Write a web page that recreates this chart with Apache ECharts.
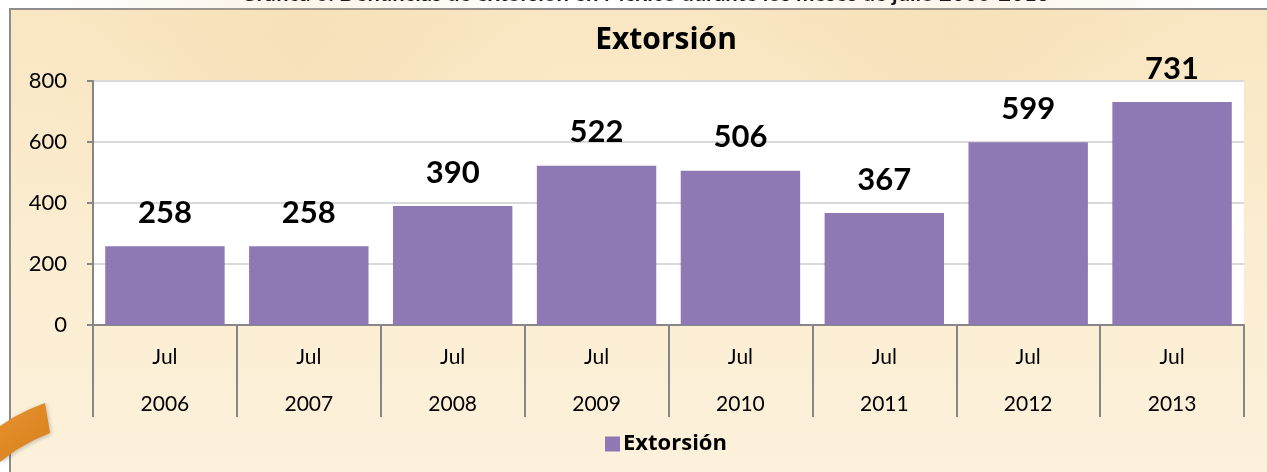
<!DOCTYPE html>
<html lang="es">
  <head>
    <meta charset="UTF-8" />
    <title>Extorsión</title>
    <script src="https://cdn.jsdelivr.net/npm/echarts@6/dist/echarts.min.js"></script>
    <style>
      html, body { margin: 0; padding: 0; background: #fff; }
    </style>
  </head>
  <body>
    <div id="main" style="width: 1267px; height: 472px;"></div>
    <script type="text/javascript">
      // datos de la gráfica
      var meses = ["Jul", "Jul", "Jul", "Jul", "Jul", "Jul", "Jul", "Jul"];
      var anios = ["2006", "2007", "2008", "2009", "2010", "2011", "2012", "2013"];
      var extorsion = [258, 258, 390, 522, 506, 367, 599, 731];
      var yTicks = [0, 200, 400, 600, 800];

      var categorias = anios.map(function (a, i) {
        return meses[i] + "\n" + a;
      });

      var FONT = "Lato, 'Noto Sans', sans-serif";
      var FONT_T = "'Open Sans', Lato, sans-serif";
      var myChart = echarts.init(document.getElementById("main"));

      var option = {
        backgroundColor: "#ffffff",
        animation: false,
        textStyle: { fontFamily: FONT },
        graphic: [
          {
            // fondo tipo pergamino
            type: "rect",
            z: -10,
            shape: { x: 10, y: 9, width: 1270, height: 470 },
            style: {
              fill: new echarts.graphic.LinearGradient(0, 0, 0, 1, [
                { offset: 0, color: "#F9E6C2" },
                { offset: 0.5, color: "#FBEDD1" },
                { offset: 1, color: "#FCF1DB" }
              ]),
              stroke: "#8C8C8C",
              lineWidth: 2
            }
          },
          {
            type: "circle",
            z: -9,
            shape: { cx: 300, cy: 60, r: 260 },
            style: {
              fill: new echarts.graphic.RadialGradient(0.5, 0.5, 0.5, [
                { offset: 0, color: "rgba(240,205,150,0.25)" },
                { offset: 1, color: "rgba(240,205,150,0)" }
              ])
            }
          },
          {
            type: "circle",
            z: -9,
            shape: { cx: 950, cy: 40, r: 280 },
            style: {
              fill: new echarts.graphic.RadialGradient(0.5, 0.5, 0.5, [
                { offset: 0, color: "rgba(240,205,150,0.22)" },
                { offset: 1, color: "rgba(240,205,150,0)" }
              ])
            }
          },
          {
            // cinta naranja decorativa
            type: "polygon",
            z: 5,
            shape: {
              points: [[0, 426], [14, 417], [30, 409], [45, 403], [50, 433], [34, 440], [16, 450], [0, 462]]
            },
            style: {
              fill: new echarts.graphic.LinearGradient(0, 0, 1, 1, [
                { offset: 0, color: "#E4922E" },
                { offset: 1, color: "#D97F1E" }
              ]),
              shadowColor: "rgba(0,0,0,0.25)",
              shadowBlur: 4,
              shadowOffsetX: 1,
              shadowOffsetY: 1
            }
          },
          {
            // título superior (cortado)
            type: "text",
            x: 645,
            y: -17,
            style: {
              text: "Gráfica 6. Denuncias de extorsión en México durante los meses de julio 2006-2013",
              font: "bold 22px " + FONT,
              fill: "#1a1a1a",
              textAlign: "center"
            }
          }
        ],
        title: {
          text: "Extorsión",
          left: 661,
          textAlign: "center",
          top: 20,
          textStyle: {
            fontFamily: FONT_T,
            fontWeight: "bold",
            fontSize: 30,
            color: "#000"
          }
        },
        legend: {
          top: 428,
          left: 600,
          itemWidth: 15,
          itemHeight: 15,
          itemGap: 6,
          icon: "rect",
          textStyle: {
            fontFamily: FONT_T,
            fontWeight: "bold",
            fontSize: 22,
            color: "#000",
            padding: [0, 0, 0, -2]
          },
          data: ["Extorsión"]
        },
        grid: {
          left: 93,
          right: 23,
          top: 81,
          bottom: 147,
          show: true,
          backgroundColor: "#ffffff",
          borderWidth: 0
        },
        xAxis: {
          type: "category",
          data: categorias,
          boundaryGap: true,
          axisLine: { lineStyle: { color: "#868686", width: 2 } },
          axisTick: {
            show: true,
            interval: 0,
            length: 92,
            lineStyle: { color: "#868686", width: 2 }
          },
          axisLabel: {
            interval: 0,
            margin: 9,
            color: "#000",
            fontFamily: FONT,
            fontSize: 21,
            lineHeight: 47
          }
        },
        yAxis: {
          type: "value",
          min: yTicks[0],
          max: yTicks[yTicks.length - 1],
          interval: 200,
          axisLine: { show: true, lineStyle: { color: "#868686", width: 2 } },
          axisTick: { show: true, length: 6, lineStyle: { color: "#868686", width: 2 } },
          axisLabel: {
            margin: 26,
            color: "#000",
            fontFamily: FONT,
            fontSize: 22
          },
          splitLine: { lineStyle: { color: "#D9D9D9", width: 2 } }
        },
        series: [
          {
            name: "Extorsión",
            type: "bar",
            data: extorsion,
            barCategoryGap: "17%",
            itemStyle: { color: "#8F79B4" },
            label: {
              show: true,
              position: "top",
              distance: 18,
              fontFamily: FONT,
              fontWeight: "bold",
              fontSize: 31,
              color: "#000"
            }
          }
        ]
      };

      myChart.setOption(option);
    </script>
  </body>
</html>
